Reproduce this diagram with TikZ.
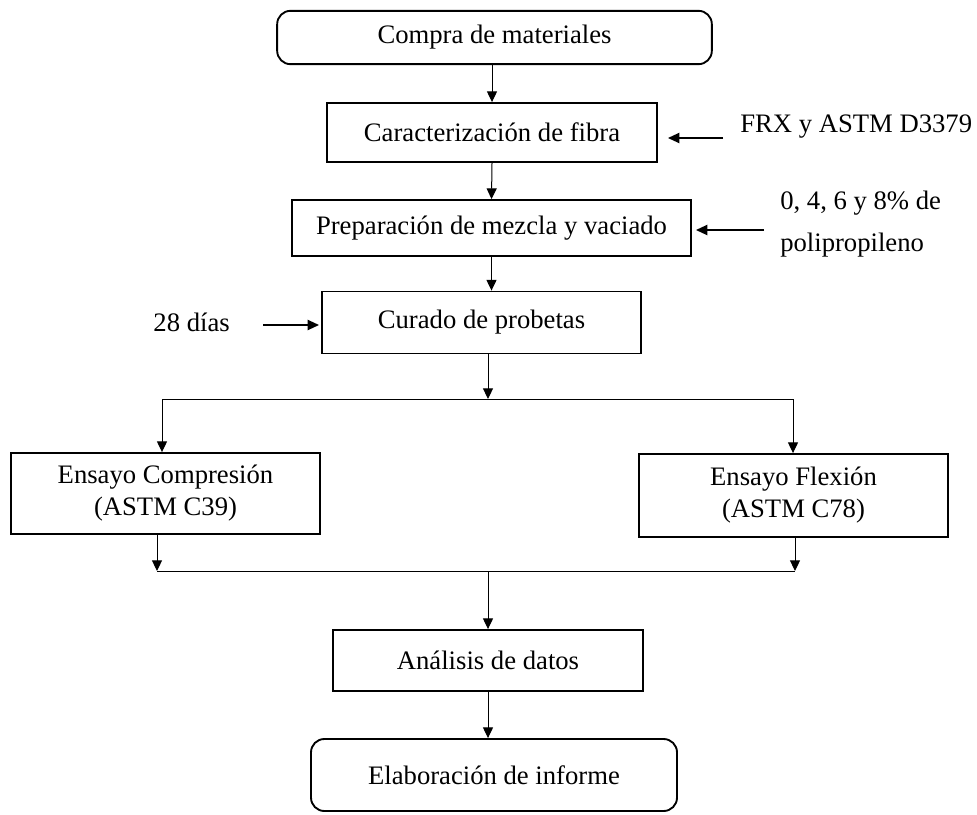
\documentclass[tikz,border=0pt]{standalone}
\usepackage{fontspec}
\setmainfont{Liberation Serif}
\usetikzlibrary{%
    arrows.meta,
    calc,
    positioning
}
\tikzset{
    stepbox/.style = {draw, line width=1.4pt, inner sep=0pt, align=center,
        font=\fontsize{20}{24}\selectfont},
    roundbox/.style = {stepbox, rounded corners=10pt},
    note/.style = {inner sep=0pt, align=left, font=\fontsize{20}{32}\selectfont},
    flowarrow/.style = {-{Triangle[length=8pt,width=7.5pt]}, line width=0.75pt},
    sidearrow/.style = {-{Triangle[length=8.5pt,width=7.5pt]}, line width=1.4pt},
    joinline/.style = {line width=0.75pt}
}

\begin{document}
\begin{tikzpicture}[x=0.75pt,y=-0.75pt]
    \useasboundingbox (0,0) rectangle (977,814);

    \node[roundbox, minimum width=326pt, minimum height=40pt] (compra) at (494.5,37.5) {Compra de materiales};
    \node[stepbox, minimum width=247.5pt, minimum height=44.25pt] (fibra) at (492,132.5) {Caracterización de fibra};
    \node[stepbox, minimum width=299.25pt, minimum height=42pt] (mezcla) at (491.5,228) {Preparación de mezcla y vaciado};
    \node[stepbox, minimum width=239.25pt, minimum height=46.5pt] (curado) at (481.5,322.5) {Curado de probetas};
    \node[stepbox, minimum width=231.75pt, minimum height=60.75pt] (compresion) at (165.5,493.5) {Ensayo Compresión\\(ASTM C39)};
    \node[stepbox, minimum width=231.75pt, minimum height=62.25pt] (flexion) at (793.5,495.5) {Ensayo Flexión\\(ASTM C78)};
    \node[stepbox, minimum width=232.5pt, minimum height=45.75pt] (analisis) at (488,660.5) {Análisis de datos};
    \node[roundbox, minimum width=274.5pt, minimum height=54pt] (informe) at (494,775) {Elaboración de informe};

    \node[note, anchor=west] (frx) at (740,127) {FRX y ASTM D3379};
    \node[note, anchor=west] (pct) at (780,224) {0, 4, 6 y 8\% de\\polipropileno};
    \node[note, anchor=east] (dias) at (230,322) {28 días};

    \coordinate (frxtail) at (723,138);
    \coordinate (pcttail) at (764,230);
    \coordinate (diastail) at (263,325);
    \coordinate (splitL) at (162,399);
    \coordinate (splitC) at (488,399);
    \coordinate (splitR) at (793,399);
    \coordinate (joinL) at (157,571);
    \coordinate (joinC) at (488,571);
    \coordinate (joinR) at (795,571);

    \draw[flowarrow] (compra.south -| fibra) -- (fibra.north);
    \draw[flowarrow] (fibra.south) -- (mezcla.north);
    \draw[flowarrow] (mezcla.south) -- (mezcla.south |- curado.north);
    \draw[flowarrow] (curado.south -| splitC) -- (splitC);
    \draw[joinline] (splitL) -- (splitR);
    \draw[flowarrow] (splitL) -- (splitL |- compresion.north);
    \draw[flowarrow] (splitR) -- (splitR |- flexion.north);
    \draw[flowarrow] (joinL |- compresion.south) -- (joinL);
    \draw[flowarrow] (joinR |- flexion.south) -- (joinR);
    \draw[joinline] (joinL) -- (joinR);
    \draw[flowarrow] (joinC) -- (joinC |- analisis.north);
    \draw[flowarrow] (analisis.south) -- (analisis.south |- informe.north);

    \draw[sidearrow, shorten >=7.5pt] (frxtail) -- (frxtail -| fibra.east);
    \draw[sidearrow, shorten >=3pt] (pcttail) -- (pcttail -| mezcla.east);
    \draw[sidearrow, shorten >=1.5pt] (diastail) -- (diastail -| curado.west);
\end{tikzpicture}
\end{document}
